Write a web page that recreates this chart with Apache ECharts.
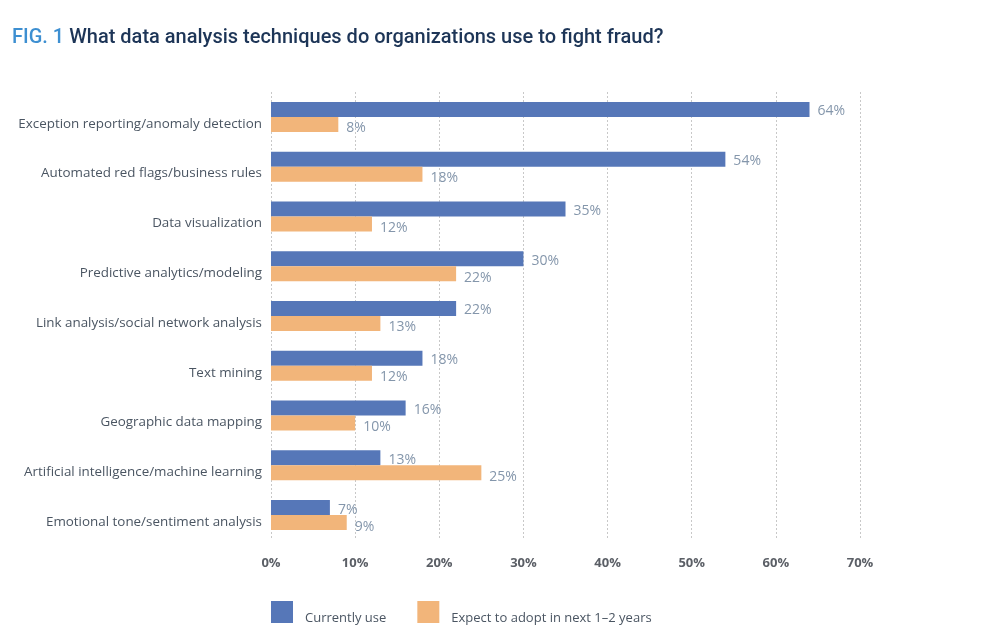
<!DOCTYPE html>
<html><head><meta charset="utf-8">
<script src="https://cdn.jsdelivr.net/npm/echarts@6/dist/echarts.min.js"></script>
<style>html,body{margin:0;padding:0;background:#fff}#c{width:988px;height:644px}</style>
</head><body><div id="c"></div>
<script>
const categories = [
  "Exception reporting/anomaly detection",
  "Automated red flags/business rules",
  "Data visualization",
  "Predictive analytics/modeling",
  "Link analysis/social network analysis",
  "Text mining",
  "Geographic data mapping",
  "Artificial intelligence/machine learning",
  "Emotional tone/sentiment analysis"
];
const currentlyUse = [64, 54, 35, 30, 22, 18, 16, 13, 7];
const expectAdopt = [8, 18, 12, 22, 13, 12, 10, 25, 9];
const seriesNames = ["Currently use", "Expect to adopt in next 1\u20132 years"];

const chart = echarts.init(document.getElementById('c'));
chart.setOption({
  animation: false,
  title: {
    text: '{a|FIG. 1} {b|What data analysis techniques do organizations use to fight fraud?}',
    left: 7, top: 23,
    textStyle: {
      rich: {
        a: { fontFamily: 'Roboto', fontWeight: 500, fontSize: 20, color: '#3d8fd1' },
        b: { fontFamily: 'Roboto', fontWeight: 500, fontSize: 20, color: '#1d3557' }
      }
    }
  },
  legend: {
    left: 266, top: 596,
    itemWidth: 22, itemHeight: 22, itemGap: 31,
    icon: 'rect',
    formatter: function (n) { return '{t|' + n + '}'; },
    textStyle: {
      fontFamily: 'Open Sans', fontSize: 13, color: '#4a5562',
      rich: { t: { fontFamily: 'Open Sans', fontSize: 13, color: '#4a5562', padding: [12, 0, 0, 7] } }
    },
    data: seriesNames
  },
  grid: { left: 271, right: 128, top: 92, bottom: 104, containLabel: false },
  xAxis: {
    type: 'value', min: 0, max: 70, interval: 10,
    axisLine: { show: false }, axisTick: { show: false },
    splitLine: { show: true, lineStyle: { type: [2, 2], color: '#c8c8c8', width: 1 } },
    axisLabel: { formatter: '{value}%', fontFamily: 'Open Sans', fontWeight: 'bold', fontSize: 13, color: '#5b5f66', margin: 17 }
  },
  yAxis: {
    type: 'category', data: categories, inverse: true,
    axisLine: { show: false }, axisTick: { show: false },
    axisLabel: { fontFamily: 'Open Sans', fontSize: 13.4, color: '#4a5562', margin: 9, verticalAlign: 'top', lineHeight: 14 }
  },
  series: [
    {
      name: seriesNames[0], type: 'bar', data: currentlyUse,
      barWidth: 15, barGap: '0%',
      itemStyle: { color: '#5677b8' },
      label: { show: true, position: 'right', distance: 8, offset: [0, 2], formatter: '{c}%', fontFamily: 'Open Sans', fontSize: 14, color: '#8496ab' }
    },
    {
      name: seriesNames[1], type: 'bar', data: expectAdopt,
      barWidth: 15, barGap: '0%',
      itemStyle: { color: '#f2b57a' },
      label: { show: true, position: 'right', distance: 8, offset: [0, 4], formatter: '{c}%', fontFamily: 'Open Sans', fontSize: 14, color: '#8496ab' }
    }
  ]
});
</script></body></html>
